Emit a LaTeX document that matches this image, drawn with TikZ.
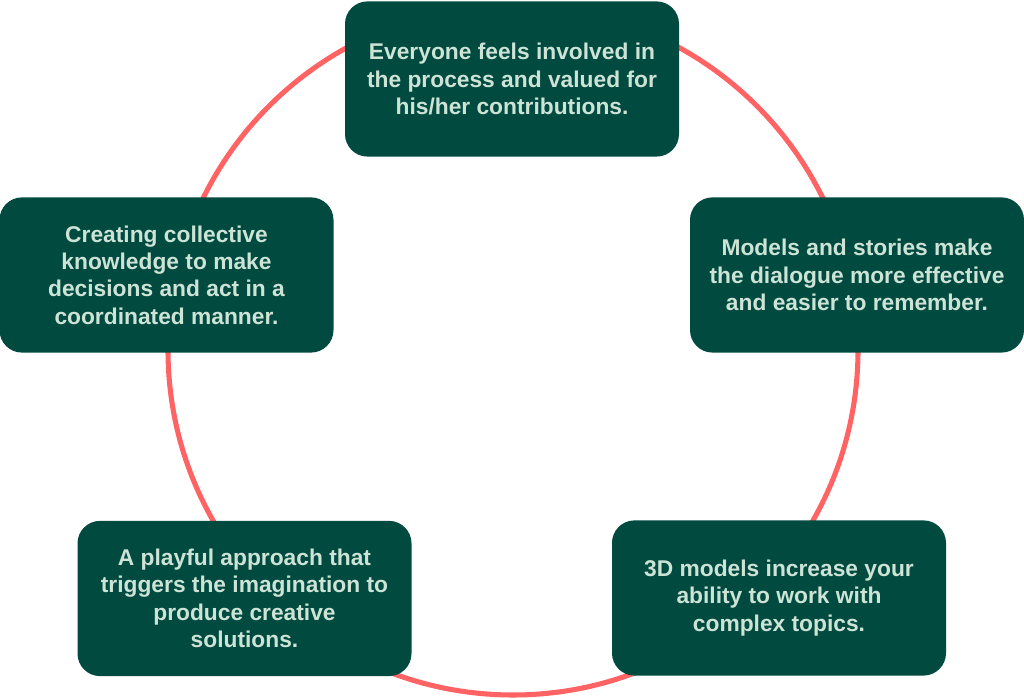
\documentclass[tikz,border=0pt]{standalone}
\usepackage{fontspec}
\setmainfont{Liberation Sans}
\definecolor{pinegreen}{HTML}{004A40}
\definecolor{palemint}{HTML}{CDE3D6}
\definecolor{coral}{HTML}{FF6363}

\begin{document}
\begin{tikzpicture}[
    benefit/.style={fill=pinegreen, rounded corners=16pt, text=palemint,
      minimum width=8.35cm, minimum height=3.88cm, align=center,
      font=\bfseries\fontsize{16.2}{19.4}\selectfont},
  ]

  % Canvas
  \useasboundingbox (0,0) rectangle (25.6,17.475);

  % === Cycle ring ===
  \draw[coral, line width=3.6pt] (12.825,8.725) circle (8.625cm);

  % === Benefit boxes ===
  \node[benefit] (involved) at (12.8,15.5)
    {Everyone feels involved in\\the process and valued for\\his/her contributions.};
  \node[benefit] (stories) at (21.425,10.6)
    {Models and stories make\\the dialogue more effective\\and easier to remember.};
  \node[benefit] (complex) at (19.475,2.525)
    {3D models increase your\\ability to work with\\complex topics.};
  \node[benefit] (playful) at (6.1125,2.5125)
    {A playful approach that\\triggers the imagination to\\produce creative\\solutions.};
  \node[benefit] (collective) at (4.1625,10.6)
    {Creating collective\\knowledge to make\\decisions and act in a\\coordinated manner.};

\end{tikzpicture}
\end{document}
